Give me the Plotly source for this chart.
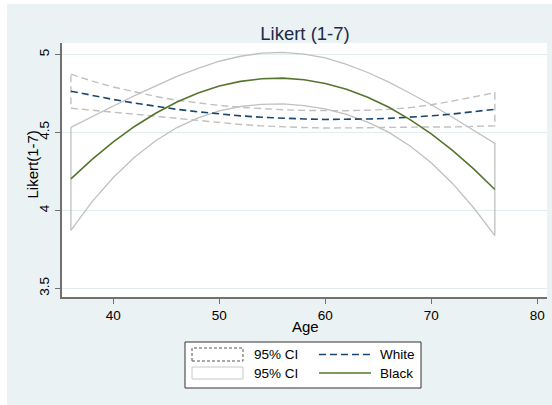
import plotly.graph_objects as go

# ---------------- data ----------------
ages = [36, 38, 40, 42, 44, 46, 48, 50, 52, 54, 56, 58, 60, 62, 64, 66, 68, 70, 72, 74, 76]

white_fit = [4.764, 4.736, 4.711, 4.688, 4.667, 4.648, 4.632, 4.618, 4.606, 4.597, 4.590,
             4.586, 4.583, 4.583, 4.586, 4.590, 4.597, 4.606, 4.618, 4.632, 4.648]
white_hi = [4.873, 4.829, 4.791, 4.759, 4.730, 4.706, 4.688, 4.673, 4.661, 4.652, 4.645,
            4.641, 4.638, 4.639, 4.642, 4.648, 4.659, 4.677, 4.701, 4.727, 4.754]
white_lo = [4.655, 4.643, 4.631, 4.617, 4.604, 4.590, 4.576, 4.563, 4.551, 4.542, 4.535,
            4.531, 4.528, 4.527, 4.530, 4.532, 4.535, 4.535, 4.535, 4.537, 4.542]

black_fit = [4.202, 4.327, 4.440, 4.538, 4.623, 4.695, 4.752, 4.797, 4.827, 4.844, 4.848,
             4.837, 4.814, 4.776, 4.725, 4.661, 4.582, 4.491, 4.385, 4.266, 4.134]
black_hi = [4.532, 4.598, 4.669, 4.736, 4.799, 4.859, 4.911, 4.956, 4.988, 5.008, 5.013,
            5.002, 4.977, 4.936, 4.884, 4.822, 4.751, 4.677, 4.597, 4.515, 4.429]
black_lo = [3.872, 4.056, 4.211, 4.340, 4.447, 4.531, 4.593, 4.638, 4.666, 4.680, 4.683,
            4.672, 4.651, 4.616, 4.566, 4.500, 4.413, 4.305, 4.173, 4.017, 3.839]

x_ticks = [40, 50, 60, 70, 80]
y_ticks = [3.5, 4, 4.5, 5]
y_tick_labels = ["3.5", "4", "4.5", "5"]

legend_labels = ["95% CI", "White", "95% CI", "Black"]

# ---------------- styling / layout (screen pixel positions) ----------------
SCREEN_W, SCREEN_H = 552, 405
OX, OY = 7, 4                       # page offset of the figure (white strip)
W, H = SCREEN_W - OX, SCREEN_H - OY
PLOT_L, PLOT_R, PLOT_T, PLOT_B = 62, 547, 43, 297   # screen coords of plot area
ML, MR, MT, MB = PLOT_L - OX, SCREEN_W - PLOT_R, PLOT_T - OY, SCREEN_H - PLOT_B
PW, PH = PLOT_R - PLOT_L, PLOT_B - PLOT_T
BG = "#EAF2F3"
FONT = "Liberation Sans, Arial, Helvetica, sans-serif"
NAVY = "#1a476f"
GREEN = "#55752f"
CI_GRAY = "#c0c0c0"
AXIS = "#707070"


def px(xs_):
    return (xs_ - PLOT_L) / PW


def py(ys_):
    return (PLOT_B - ys_) / PH


def band(lo_vals, hi_vals):
    xs = list(ages) + list(reversed(ages)) + [ages[0]]
    ys = list(hi_vals) + list(reversed(lo_vals)) + [hi_vals[0]]
    return xs, ys


fig = go.Figure()

xs, ys = band(white_lo, white_hi)
fig.add_trace(go.Scatter(x=xs, y=ys, mode="lines", showlegend=False,
                         line=dict(color=CI_GRAY, width=1.4, dash="7px,4px")))
xs, ys = band(black_lo, black_hi)
fig.add_trace(go.Scatter(x=xs, y=ys, mode="lines", showlegend=False,
                         line=dict(color=CI_GRAY, width=1.3)))
fig.add_trace(go.Scatter(x=ages, y=white_fit, mode="lines", showlegend=False,
                         line=dict(color=NAVY, width=1.6, dash="7px,4px")))
fig.add_trace(go.Scatter(x=ages, y=black_fit, mode="lines", showlegend=False,
                         line=dict(color=GREEN, width=1.6)))

shapes = []
# manual Stata-style legend
shapes.append(dict(type="rect", xref="paper", yref="paper", x0=px(185), x1=px(421), y0=py(388), y1=py(342),
                   fillcolor="white", line=dict(color="#333333", width=1)))
shapes.append(dict(type="rect", xref="paper", yref="paper", x0=px(192), x1=px(243), y0=py(361), y1=py(348),
                   fillcolor="white", line=dict(color="#555555", width=1, dash="3px,2px")))
shapes.append(dict(type="rect", xref="paper", yref="paper", x0=px(192), x1=px(243), y0=py(379), y1=py(367),
                   fillcolor="white", line=dict(color="#c8c8c8", width=1)))
shapes.append(dict(type="line", xref="paper", yref="paper", x0=px(319), x1=px(371), y0=py(354.5), y1=py(354.5),
                   line=dict(color=NAVY, width=1.4, dash="7px,4px")))
shapes.append(dict(type="line", xref="paper", yref="paper", x0=px(319), x1=px(371), y0=py(373), y1=py(373),
                   line=dict(color=GREEN, width=1.4)))

annotations = []
for label, xp, yp in [(legend_labels[0], 252, 354.5), (legend_labels[1], 378, 354.5),
                      (legend_labels[2], 252, 373), (legend_labels[3], 378, 373)]:
    annotations.append(dict(text=label, xref="paper", yref="paper", x=px(xp), y=py(yp),
                            xanchor="left", yanchor="middle", showarrow=False,
                            font=dict(family=FONT, size=13.5, color="#000000")))
# axis titles
annotations.append(dict(text="Age", xref="paper", yref="paper", x=px(305), y=py(326.5),
                        xanchor="center", yanchor="middle", showarrow=False,
                        font=dict(family=FONT, size=15, color="#000000")))
annotations.append(dict(text="Likert(1-7)", xref="paper", yref="paper", x=px(31.5), y=py(165),
                        xanchor="center", yanchor="middle", showarrow=False, textangle=-90,
                        font=dict(family=FONT, size=15, color="#000000")))

fig.update_layout(
    width=W, height=H,
    margin=dict(l=ML, r=MR, t=MT, b=MB, pad=0, autoexpand=False),
    paper_bgcolor=BG, plot_bgcolor="white",
    font=dict(family=FONT, size=13.5, color="#000000"),
    title=dict(text="Likert (1-7)", xref="container", x=(305 - OX) / W, xanchor="center",
               yref="container", y=1 - (33.5 - OY) / H, yanchor="middle",
               font=dict(family=FONT, size=18.5, color="#1e2a4a")),
    shapes=shapes, annotations=annotations, showlegend=False,
    xaxis=dict(range=[35.16, 80.92], tickvals=x_ticks, ticktext=[str(v) for v in x_ticks],
               automargin=False,
               showgrid=False, zeroline=False, showline=True, linecolor=AXIS, linewidth=1.5,
               ticks="outside", ticklen=5, tickcolor=AXIS, tickwidth=1,
               tickfont=dict(size=13.5)),
    yaxis=dict(range=[3.445, 5.073], tickvals=y_ticks, ticktext=y_tick_labels, tickangle=-90,
               automargin=False, ticklabelstandoff=1,
               showgrid=True, gridcolor="#E3ECEE", gridwidth=1, zeroline=False,
               showline=True, linecolor=AXIS, linewidth=1.5,
               ticks="outside", ticklen=5, tickcolor=AXIS, tickwidth=1,
               tickfont=dict(size=13.5)),
)

fig.write_html("out.html",
               post_script="document.body.style.margin='%dpx 0 0 %dpx';" % (OY, OX))
